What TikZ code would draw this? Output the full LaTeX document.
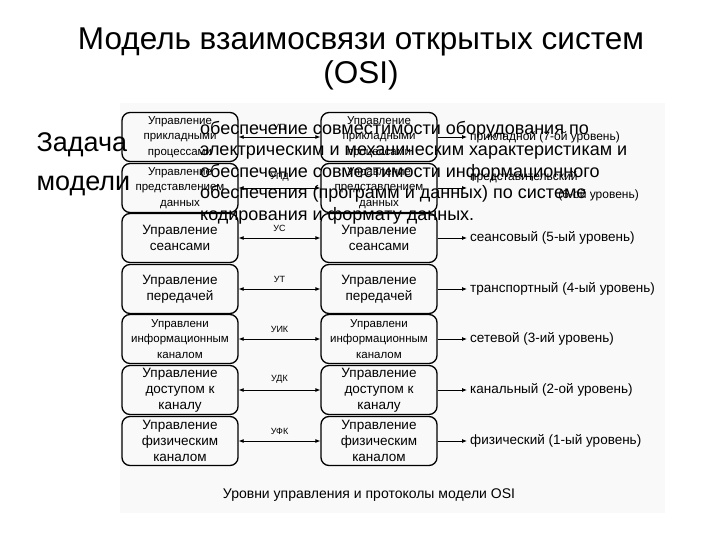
\documentclass[tikz,border=0pt]{standalone}
\usepackage{fontspec}
\setmainfont{Liberation Sans}
\usetikzlibrary{arrows.meta}

\tikzset{
  layer/.style={draw, line width=1.3pt, rounded corners=8pt, minimum width=116pt,
    minimum height=49pt, inner sep=1pt, align=center, font=\fontsize{13.5}{16}\selectfont},
  smalllayer/.style={layer, font=\fontsize{11.5}{15.5}\selectfont},
  proto/.style={font=\fontsize{9}{10}\selectfont},
  level/.style={anchor=west, inner sep=3pt, font=\fontsize{13.5}{15}\selectfont},
  smalllevel/.style={level, font=\fontsize{12}{14}\selectfont},
  link/.style={{Latex[length=5pt,width=4pt]}-{Latex[length=5pt,width=4pt]}, line width=0.8pt},
  tolevel/.style={-{Latex[length=5pt,width=4pt]}, line width=0.8pt}
}

\begin{document}
\begin{tikzpicture}[x=1pt,y=-1pt]
  \useasboundingbox (0,0) rectangle (720,540);
  \fill[white] (0,0) rectangle (720,540);

  % Title
  \node[align=center, font=\fontsize{31.5}{34}\selectfont] (title) at (361,59)
    {Модель взаимосвязи открытых систем\\(OSI)};

  % picture background
  \fill[gray!5] (120,103) rectangle (665,513);

  % Left column
  \node[smalllayer] (l1) at (180,137) {Управление\\прикладными\\процессами};
  \node[smalllayer] (l2) at (180,188) {Управление\\представлением\\данных};
  \node[layer] (l3) at (180,238) {Управление\\сеансами};
  \node[layer] (l4) at (180,289) {Управление\\передачей};
  \node[smalllayer] (l5) at (180,339) {Управлени\\информационным\\каналом};
  \node[layer] (l6) at (180,390) {Управление\\доступом к\\каналу};
  \node[layer] (l7) at (180,441) {Управление\\физическим\\каналом};

  % Right column
  \node[smalllayer] (r1) at (379,137) {Управление\\прикладными\\процессами};
  \node[smalllayer] (r2) at (379,188) {Управление\\представлением\\данных};
  \node[layer] (r3) at (379,238) {Управление\\сеансами};
  \node[layer] (r4) at (379,289) {Управление\\передачей};
  \node[smalllayer] (r5) at (379,339) {Управлени\\информационным\\каналом};
  \node[layer] (r6) at (379,390) {Управление\\доступом к\\каналу};
  \node[layer] (r7) at (379,441) {Управление\\физическим\\каналом};

  % Protocols
  \draw[link] (l1) -- node[proto, above=3pt] {УП} (r1);
  \draw[link] (l2) -- node[proto, above=3pt] {УПД} (r2);
  \draw[link] (l3) -- node[proto, above=3pt] {УС} (r3);
  \draw[link] (l4) -- node[proto, above=3pt] {УТ} (r4);
  \draw[link] (l5) -- node[proto, above=3pt] {УИК} (r5);
  \draw[link] (l6) -- node[proto, above=3pt] {УДК} (r6);
  \draw[link] (l7) -- node[proto, above=3pt] {УФК} (r7);

  % Levels
  \node[smalllevel] (lv1) at (467,137) {прикладной (7-ой уровень)};
  \node[smalllevel] (lv2) at (467,177) {представительский};
  \node[smalllevel, anchor=east] (lv2b) at (642,195) {(6-ой уровень)};
  \coordinate (e2) at (467,188);
  \node[level] (lv3) at (467,238) {сеансовый (5-ый уровень)};
  \node[level] (lv4) at (467,289) {транспортный (4-ый уровень)};
  \node[level] (lv5) at (467,339) {сетевой (3-ий уровень)};
  \node[level] (lv6) at (467,390) {канальный (2-ой уровень)};
  \node[level] (lv7) at (467,441) {физический (1-ый уровень)};

  \draw[tolevel] (r1) -- (lv1);
  \draw[tolevel] (r2) -- (e2);
  \draw[tolevel] (r3) -- (lv3);
  \draw[tolevel] (r4) -- (lv4);
  \draw[tolevel] (r5) -- (lv5);
  \draw[tolevel] (r6) -- (lv6);
  \draw[tolevel] (r7) -- (lv7);

  % Caption
  \node[font=\fontsize{14}{16}\selectfont] (caption) at (369,495)
    {Уровни управления и протоколы модели OSI};

  % Slide text over the picture
  \node[anchor=west, align=left, font=\fontsize{27}{39}\selectfont] (task) at (33,164)
    {Задача\\модели};
  \node[anchor=north west, align=left, inner sep=0pt, font=\fontsize{18}{21.5}\selectfont] (goal) at (200,121)
    {обеспечение совместимости оборудования по\\
     электрическим и механическим характеристикам и\\
     обеспечение совместимости информационного\\
     обеспечения (программ и данных) по системе\\
     кодирования и формату данных.};
\end{tikzpicture}
\end{document}
